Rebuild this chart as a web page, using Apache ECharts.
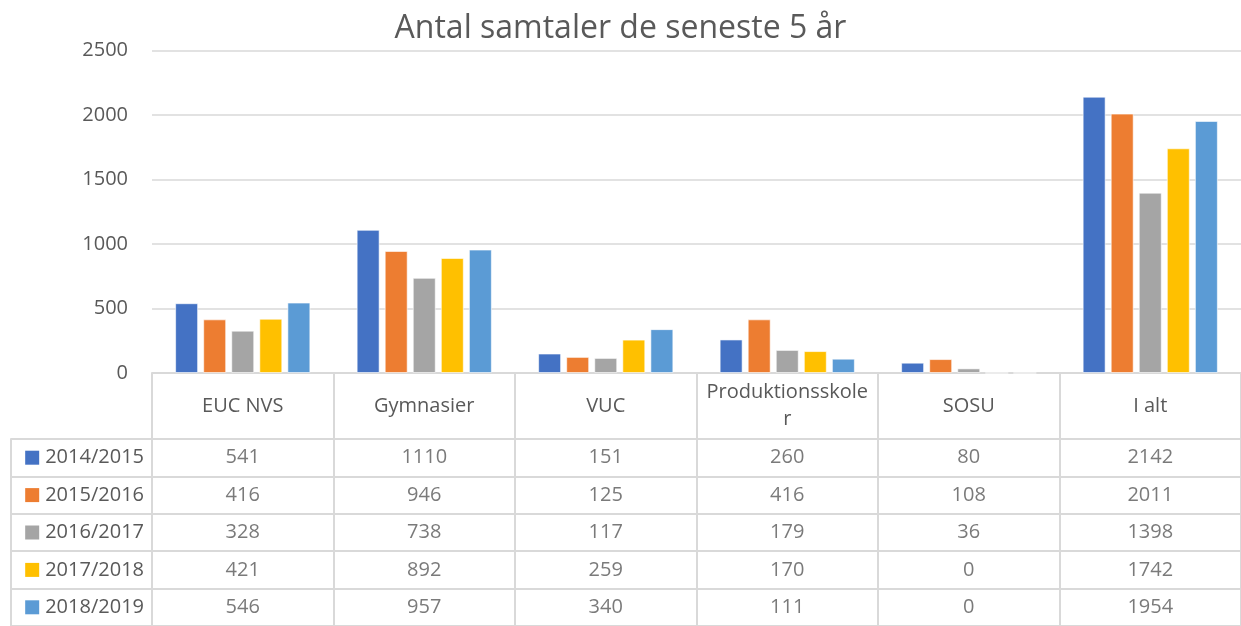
<!DOCTYPE html>
<html>
<head>
<meta charset="utf-8">
<script src="https://cdn.jsdelivr.net/npm/echarts@6/dist/echarts.min.js"></script>
<style>
html,body{margin:0;padding:0;background:#fff;}
#main{width:1241px;height:626px;}
</style>
</head>
<body>
<div id="main"></div>
<script>
var categories = ['EUC NVS', 'Gymnasier', 'VUC', 'Produktionsskoler', 'SOSU', 'I alt'];
var years = ['2014/2015', '2015/2016', '2016/2017', '2017/2018', '2018/2019'];
var y2014 = [541, 1110, 151, 260, 80, 2142];
var y2015 = [416, 946, 125, 416, 108, 2011];
var y2016 = [328, 738, 117, 179, 36, 1398];
var y2017 = [421, 892, 259, 170, 0, 1742];
var y2018 = [546, 957, 340, 111, 0, 1954];
var yTicks = [0, 500, 1000, 1500, 2000, 2500];

var rows = [y2014, y2015, y2016, y2017, y2018];
var colors = ['#4472C4', '#ED7D31', '#A5A5A5', '#FFC000', '#5B9BD5'];
var txt = '#595959';
var lineCol = '#d9d9d9';
var font = '"Open Sans", "Noto Sans", sans-serif';

var myChart = echarts.init(document.getElementById('main'));

var series = [];
rows.forEach(function (r, i) {
    series.push({
        name: years[i],
        type: 'bar',
        data: r,
        barWidth: 23,
        barGap: '22%',
        itemStyle: {color: colors[i], borderColor: 'rgba(255,255,255,0.6)', borderWidth: 1}
    });
});

// cells of the data table
var cells = [];
rows.forEach(function (r, i) {
    r.forEach(function (v, j) {
        cells.push([j, i, v]);
    });
});
series.push({
    name: 'table',
    type: 'scatter',
    xAxisIndex: 1,
    yAxisIndex: 1,
    symbolSize: 1,
    itemStyle: {color: 'rgba(0,0,0,0)'},
    label: {
        show: true,
        position: 'inside',
        fontSize: 20,
        fontFamily: font,
        color: txt,
        formatter: function (p) { return p.value[2]; }
    },
    data: cells
});

var rich = {t: {fontSize: 20, fontFamily: font, color: txt, padding: [0, 0, 0, 6]}};
colors.forEach(function (c, i) {
    rich['s' + i] = {width: 14, height: 14, backgroundColor: c};
});

var option = {
    animation: false,
    title: {
        text: 'Antal samtaler de seneste 5 år',
        left: 'center',
        top: 8,
        textStyle: {fontSize: 32, fontWeight: 'normal', color: txt, fontFamily: font}
    },
    grid: [
        {left: 152, top: 50.5, width: 1097, height: 322.5},
        {left: 152, top: 439, width: 1097, height: 192.5}
    ],
    xAxis: [{
        type: 'category',
        data: categories,
        gridIndex: 0,
        axisLine: {lineStyle: {color: lineCol, width: 2}},
        axisTick: {show: true, interval: 0, length: 66, lineStyle: {color: lineCol, width: 2}},
        axisLabel: {
            interval: 0,
            margin: 33,
            verticalAlign: 'middle',
            fontSize: 20,
            lineHeight: 27,
            fontFamily: font,
            color: txt,
            formatter: function (v) {
                return v.length > 16 ? v.slice(0, 16) + '\n' + v.slice(16) : v;
            }
        }
    }, {
        type: 'category',
        data: categories,
        gridIndex: 1,
        position: 'top',
        axisLine: {lineStyle: {color: lineCol, width: 2}},
        axisTick: {show: false},
        axisLabel: {show: false, interval: 0},
        splitLine: {show: true, interval: 0, lineStyle: {color: lineCol, width: 2}}
    }],
    yAxis: [{
        type: 'value',
        gridIndex: 0,
        min: yTicks[0],
        max: yTicks[yTicks.length - 1],
        interval: 500,
        axisLine: {show: false},
        axisTick: {show: false},
        axisLabel: {
            margin: 24, fontSize: 20, fontFamily: font, color: txt,
            formatter: function (v) { return String(v); }
        },
        splitLine: {lineStyle: {color: lineCol, width: 1.5}}
    }, {
        type: 'category',
        data: years,
        gridIndex: 1,
        inverse: true,
        axisLine: {show: true, lineStyle: {color: lineCol, width: 2}},
        axisTick: {show: true, interval: 0, length: 141, lineStyle: {color: lineCol, width: 2}},
        axisLabel: {
            interval: 0,
            margin: 8,
            formatter: function (v, i) { return '{s' + i + '|}{t|' + v + '}'; },
            rich: rich
        },
        splitLine: {show: true, interval: 0, lineStyle: {color: lineCol, width: 2}}
    }, {
        type: 'category',
        data: years,
        gridIndex: 1,
        inverse: true,
        position: 'left',
        offset: 141,
        axisLine: {show: true, lineStyle: {color: lineCol, width: 2}},
        axisTick: {show: false},
        axisLabel: {show: false}
    }],
    series: series
};
myChart.setOption(option);
</script>
</body>
</html>
